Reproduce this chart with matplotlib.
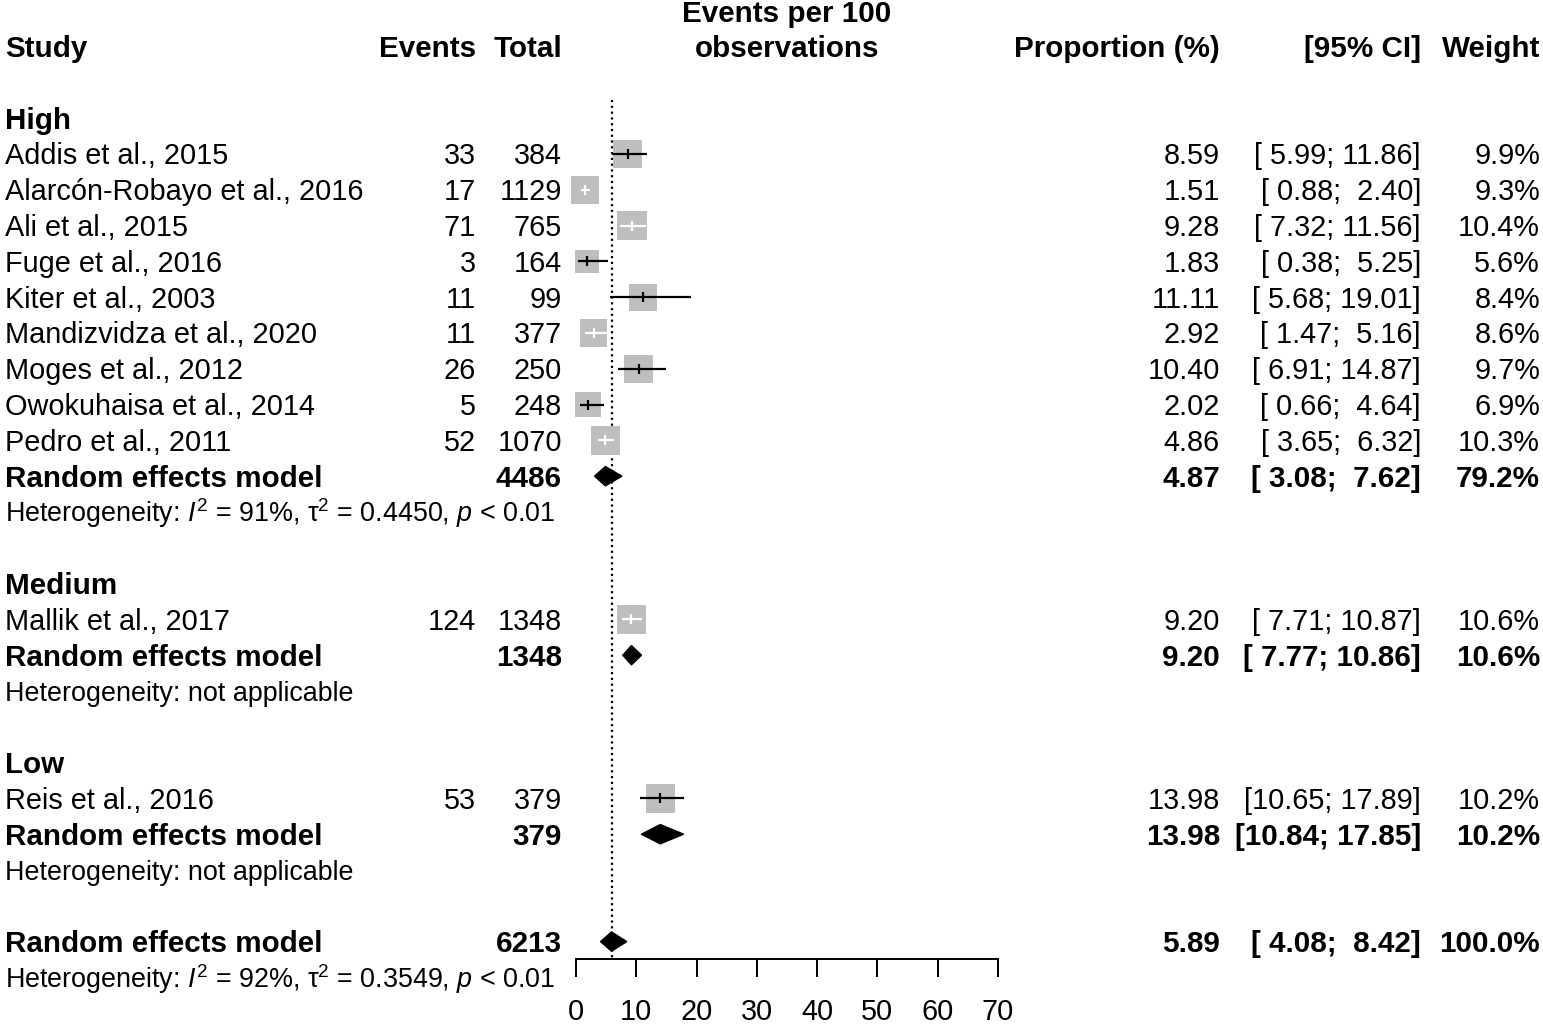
import matplotlib
matplotlib.use("Agg")
import matplotlib.pyplot as plt
from matplotlib.patches import Polygon, Rectangle
from matplotlib import transforms

plt.rcParams['font.family'] = ['Liberation Sans', 'DejaVu Sans']
plt.rcParams['mathtext.fontset'] = 'custom'
plt.rcParams['mathtext.rm'] = 'Liberation Sans'
plt.rcParams['mathtext.it'] = 'Liberation Sans:italic'
plt.rcParams['mathtext.bf'] = 'Liberation Sans:bold'

# ---------------- data ----------------
group_names = ["High", "Medium", "Low"]
study_group = ["High"] * 9 + ["Medium", "Low"]
studies = ["Addis et al., 2015", "Alarcón-Robayo et al., 2016", "Ali et al., 2015",
           "Fuge et al., 2016", "Kiter et al., 2003", "Mandizvidza et al., 2020",
           "Moges et al., 2012", "Owokuhaisa et al., 2014", "Pedro et al., 2011",
           "Mallik et al., 2017", "Reis et al., 2016"]
events = [33, 17, 71, 3, 11, 11, 26, 5, 52, 124, 53]
totals = [384, 1129, 765, 164, 99, 377, 250, 248, 1070, 1348, 379]
prop = [8.59, 1.51, 9.28, 1.83, 11.11, 2.92, 10.40, 2.02, 4.86, 9.20, 13.98]
ci_low = [5.99, 0.88, 7.32, 0.38, 5.68, 1.47, 6.91, 0.66, 3.65, 7.71, 10.65]
ci_high = [11.86, 2.40, 11.56, 5.25, 19.01, 5.16, 14.87, 4.64, 6.32, 10.87, 17.89]
weights = [9.9, 9.3, 10.4, 5.6, 8.4, 8.6, 9.7, 6.9, 10.3, 10.6, 10.2]

group_total = [4486, 1348, 379]
group_est = [4.87, 9.20, 13.98]
group_low = [3.08, 7.77, 10.84]
group_high = [7.62, 10.86, 17.85]
group_weight = [79.2, 10.6, 10.2]
group_het = [r"Heterogeneity: $\mathit{I}^{2}$ = 91%, $\mathrm{τ}^{2}$ = 0.4450, $\mathit{p}$ < 0.01",
             "Heterogeneity: not applicable",
             "Heterogeneity: not applicable"]

overall_total = 6213
overall_est = 5.89
overall_low = 4.08
overall_high = 8.42
overall_weight = 100.0
overall_het = r"Heterogeneity: $\mathit{I}^{2}$ = 92%, $\mathrm{τ}^{2}$ = 0.3549, $\mathit{p}$ < 0.01"

xticks = [0, 10, 20, 30, 40, 50, 60, 70]

# ---------------- layout ----------------
W, H = 1543, 1027
fig = plt.figure(figsize=(W / 100, H / 100), dpi=100)
row0_px, row_px = 46.6, 35.8
ax_left, ax_right = 576, 998
ax = fig.add_axes([ax_left / W, 0, (ax_right - ax_left) / W, 1])
ax.set_xlim(0, 70)
ax.set_ylim((H - row0_px) / row_px, -row0_px / row_px)
ax.patch.set_alpha(0)
px_per_unit = (ax_right - ax_left) / 70.0

trans = transforms.blended_transform_factory(fig.transFigure, ax.transData)
FS = 20.8
FS_BOLD = 21.3
FS_HET = 19.4
BASE = 0.29  # baseline offset (rows)

col_study, col_events, col_total = 5, 476, 562
col_prop, col_ci, col_weight = 1220, 1421, 1540


def txt(xpx, row, s, ha='left', bold=False, size=None):
    if size is None:
        size = FS_BOLD if bold else FS
    ax.text(xpx / W, row + BASE, s, transform=trans, ha=ha, va='baseline',
            fontsize=size, fontweight='bold' if bold else 'normal', clip_on=False)


def fmt_ci(lo, hi):
    return f"[{lo:5.2f}; {hi:5.2f}]"


def diamond(row, est, lo, hi):
    h = 0.27
    ax.add_patch(Polygon([(lo, row), (est, row - h), (hi, row), (est, row + h)],
                         closed=True, facecolor='black', edgecolor='black', lw=1,
                         clip_on=False))


# header
txt(col_study, 0, "Study", bold=True)
txt(col_events, 0, "Events", ha='right', bold=True)
txt(col_total, 0, "Total", ha='right', bold=True)
ax.text(35, -1 + BASE + 0.02, "Events per 100", ha='center', va='baseline', fontsize=FS_BOLD,
        fontweight='bold', clip_on=False)
ax.text(35, 0 + BASE, "observations", ha='center', va='baseline', fontsize=FS_BOLD,
        fontweight='bold', clip_on=False)
txt(col_prop, 0, "Proportion (%)", ha='right', bold=True)
txt(col_ci, 0, "[95% CI]", ha='right', bold=True)
txt(col_weight, 0, "Weight", ha='right', bold=True)

row = 2
max_w = max(weights)
for gi, g in enumerate(group_names):
    txt(col_study, row, g, bold=True)
    row += 1
    for i, sg in enumerate(study_group):
        if sg != g:
            continue
        txt(col_study, row, studies[i])
        txt(col_events, row, str(events[i]), ha='right')
        txt(col_total, row, str(totals[i]), ha='right')
        txt(col_prop, row, f"{prop[i]:.2f}", ha='right')
        txt(col_ci, row, fmt_ci(ci_low[i], ci_high[i]), ha='right')
        txt(col_weight, row, f"{weights[i]:.1f}%", ha='right')
        side_px = 29.5 * (weights[i] / max_w) ** 0.35
        half = side_px / 2 / px_per_unit
        half_y = side_px / 2 / row_px
        ax.add_patch(Rectangle((prop[i] - half, row - half_y), 2 * half, 2 * half_y,
                               facecolor='#BEBEBE', edgecolor='none', zorder=2,
                               clip_on=False))
        inside = (ci_low[i] > prop[i] - half) and (ci_high[i] < prop[i] + half)
        c = 'white' if inside else 'black'
        ax.plot([ci_low[i], ci_high[i]], [row, row], color=c, lw=1.6, zorder=3,
                solid_capstyle='butt', clip_on=False)
        ax.plot([prop[i], prop[i]], [row - 0.14, row + 0.14], color=c, lw=1.6,
                zorder=3, solid_capstyle='butt', clip_on=False)
        row += 1
    # random effects model
    txt(col_study, row, "Random effects model", bold=True)
    txt(col_total, row, str(group_total[gi]), ha='right', bold=True)
    txt(col_prop, row, f"{group_est[gi]:.2f}", ha='right', bold=True)
    txt(col_ci, row, fmt_ci(group_low[gi], group_high[gi]), ha='right', bold=True)
    txt(col_weight, row, f"{group_weight[gi]:.1f}%", ha='right', bold=True)
    diamond(row, group_est[gi], group_low[gi], group_high[gi])
    row += 1
    txt(col_study, row, group_het[gi], size=FS_HET)
    row += 2

# overall
txt(col_study, row, "Random effects model", bold=True)
txt(col_total, row, str(overall_total), ha='right', bold=True)
txt(col_prop, row, f"{overall_est:.2f}", ha='right', bold=True)
txt(col_ci, row, fmt_ci(overall_low, overall_high), ha='right', bold=True)
txt(col_weight, row, f"{overall_weight:.1f}%", ha='right', bold=True)
diamond(row, overall_est, overall_low, overall_high)
axis_row = row + 0.5
txt(col_study, row + 1, overall_het, size=FS_HET)

# reference line
ax.plot([overall_est, overall_est], [1.5, axis_row], color='black', lw=1.6,
        linestyle=(0, (1, 1.6)), zorder=1)

# axis
for s in ['top', 'left', 'right']:
    ax.spines[s].set_visible(False)
ax.spines['bottom'].set_position(('data', axis_row))
ax.spines['bottom'].set_bounds(0, 70)
ax.spines['bottom'].set_linewidth(1.4)
ax.set_yticks([])
ax.set_xticks(xticks)
ax.set_xticklabels([str(t) for t in xticks])
ax.tick_params(axis='x', direction='out', length=13, width=1.4, pad=15,
               labelsize=FS)

fig.savefig("out.png", dpi=100)
